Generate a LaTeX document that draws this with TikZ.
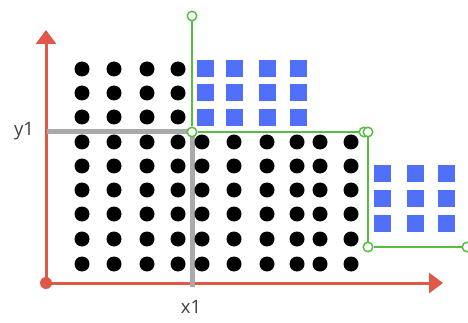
\documentclass[tikz,border=0pt]{standalone}
\usepackage{fontspec}
\setmainfont{Open Sans}
\usetikzlibrary{arrows.meta}

\definecolor{axisred}{RGB}{224,88,72}
\definecolor{cellblue}{RGB}{80,112,250}
\definecolor{cutgreen}{RGB}{84,190,64}
\definecolor{splitgray}{RGB}{170,170,170}

\tikzset{
  dot/.style={circle,fill=black,inner sep=0pt,minimum size=15pt},
  cell/.style={fill=cellblue,inner sep=0pt,minimum size=17pt},
  knot/.style={circle,draw=cutgreen,fill=white,line width=1.5pt,inner sep=0pt,minimum size=9.5pt},
  axis/.style={draw=axisred,line width=3pt,-{Triangle[width=20pt,length=14pt]}},
  split/.style={draw=splitgray,line width=5pt},
  cut/.style={draw=cutgreen,line width=1.7pt},
  lbl/.style={text=black!75,font=\fontsize{18.5}{22}\selectfont}
}

\begin{document}
\begin{tikzpicture}[x=1pt,y=-1pt]
  \useasboundingbox (0,0) rectangle (468,323);

  % axes
  \coordinate (O) at (46,283);
  \coordinate (Y) at (46,30);
  \coordinate (X) at (443,283);
  \draw[axis] (O) -- (Y);
  \draw[axis] (O) -- (X);
  \fill[axisred] (O) circle (6pt);

  % split at (x1,y1)
  \coordinate (P)  at (192,132);
  \coordinate (Py) at (49,132);
  \coordinate (Px) at (192,284);
  \draw[split,line cap=rect] (Py) -- (P) -- (Px);
  \node[lbl] (y1) at (24,131) {y1};
  \node[lbl] (x1) at (191,307) {x1};

  % points
  \foreach \x in {82,114,147,178}
    \foreach \y in {69,93,117,142,166,190,214,239,264}
      \node[dot] at (\x,\y) {};
  \foreach \x in {202,234,267,297,320,351}
    \foreach \y in {142,166,190,214,239,264}
      \node[dot] at (\x,\y) {};

  % empty cells
  \foreach \x in {205,234,267,298}
    \foreach \y in {69,93,118}
      \node[cell] at (\x,\y) {};
  \foreach \x in {382,415,446}
    \foreach \y in {174,198,223}
      \node[cell] at (\x,\y) {};

  % staircase
  \node[knot] (k1) at (192,16)  {};
  \node[knot] (k2) at (192,132) {};
  \node[knot] (k3) at (364,132) {};
  \node[knot] (k4) at (368,132) {};
  \node[knot] (k5) at (368,247) {};
  \node[knot] (k6) at (467,247) {};
  \draw[cut] (k1) -- (k2) -- (k3);
  \draw[cut] (k4) -- (k5) -- (k6);
\end{tikzpicture}
\end{document}
